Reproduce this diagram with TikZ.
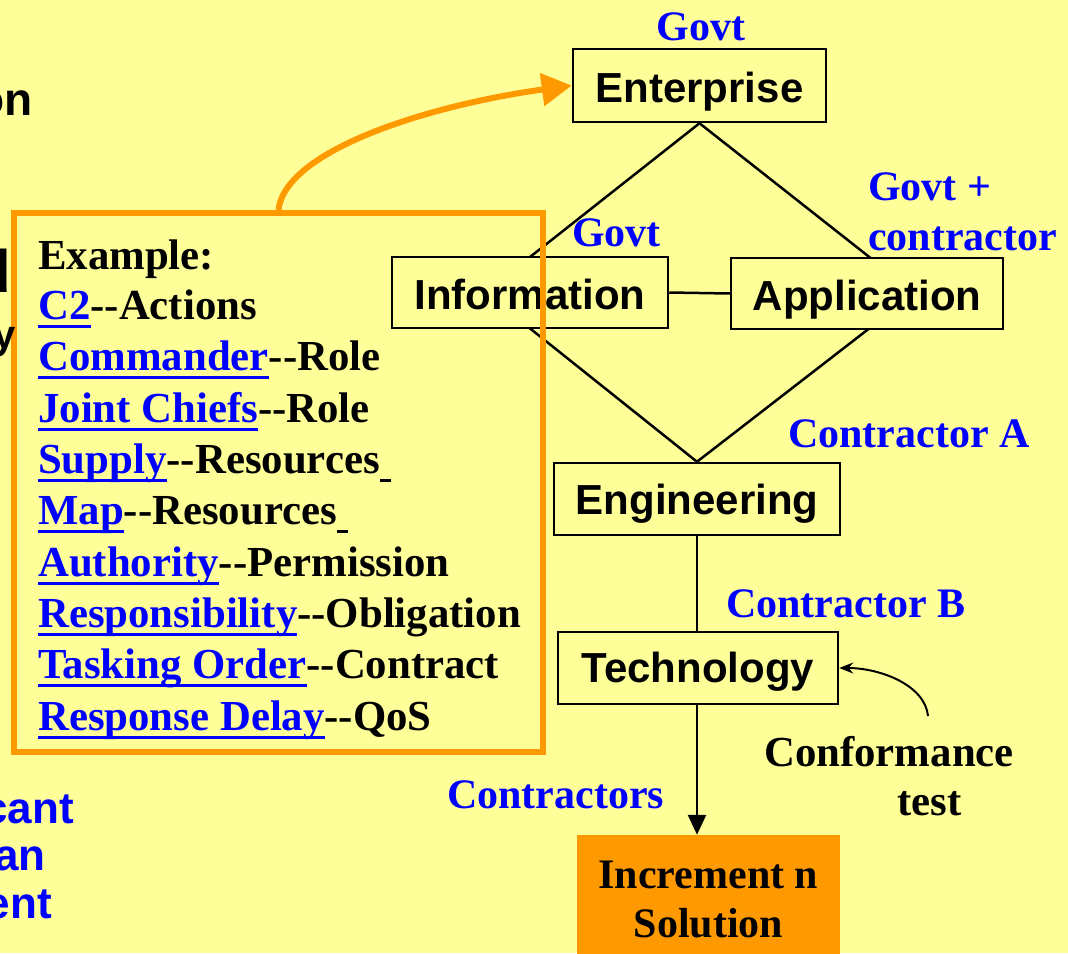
\documentclass[tikz,border=0pt]{standalone}
\usepackage{fontspec}
\usetikzlibrary{arrows.meta,backgrounds}
\newfontfamily\arl{Liberation Sans}
\newfontfamily\tms{Liberation Serif}
\definecolor{bg}{HTML}{FFFF99}
\definecolor{org}{HTML}{FF9900}
\definecolor{lblue}{HTML}{0000FF}
\newcommand\sz[1]{\fontsize{#1}{#1}\selectfont}
\newcommand\lnk[1]{{\color{lblue}\setbox0\hbox{#1}\rlap{\rule[-9pt]{\wd0}{3pt}}\box0}}
\newcommand\ulsp{\rule[-9pt]{11pt}{3pt}}
\begin{document}
\begin{tikzpicture}[x=1pt,y=-1pt,
  box/.style={draw=black,line width=2.5pt,fill=bg,font=\arl\bfseries\sz{42},inner sep=0pt,text height=33pt,text depth=0pt},
  lbl/.style={font=\tms\bfseries\sz{42},text=lblue,inner sep=0pt,anchor=base west},
  ex/.style={font=\tms\bfseries\sz{42.8},text=black,inner sep=0pt,anchor=base west},
  frag/.style={font=\arl\bfseries\sz{46},text=black,inner sep=0pt,anchor=base east},
  fragb/.style={font=\arl\bfseries\sz{44},text=lblue,inner sep=0pt,anchor=base east},
  conn/.style={line width=2.5pt,draw=black}]
\useasboundingbox (0,0) rectangle (1068,953);
\clip (0,0) rectangle (1068,953);

% boxes
\node[box,minimum width=253pt,minimum height=73pt] (ent) at (699.5,85.5) {Enterprise};
\node[box,minimum width=276pt,minimum height=71pt] (info) at (530,292.5) {Information};
\node[box,minimum width=272pt,minimum height=71pt] (app) at (867,293.5) {Application};
\node[box,minimum width=286pt,minimum height=72pt,text height=31pt] (eng) at (697,499) {Engineering};
\node[box,minimum width=280pt,minimum height=72pt,text height=29pt] (tech) at (698,668) {Technology};
\node[fill=org,minimum width=263pt,minimum height=128pt,inner sep=0pt,align=center,
      font=\tms\bfseries\fontsize{42}{49}\selectfont] (inc) at (708.5,899) {Increment n\\Solution};

\coordinate (dl) at (485,292.5);
\coordinate (dr) at (915,293);

\begin{scope}[on background layer]
  \fill[bg] (0,0) rectangle (1068,953);
  \draw[conn,line join=miter] (ent.south) -- (dl) -- (eng.north) -- (dr) -- cycle;
\end{scope}

\draw[conn] (info.east) -- (app.west);
\draw[conn] (eng.south) -- (eng.south |- tech.north);
\draw[conn,-{Triangle[length=20pt,width=18pt]}] (eng.south |- tech.south) -- (eng.south |- inc.north);

% example box
\node[draw=org,line width=6pt,minimum width=529pt,minimum height=539pt,inner sep=0pt] (exbox) at (278.5,482.5) {};
\draw[org,line width=6pt,-{Triangle[length=30pt,width=32pt]}] (exbox.north) .. controls (285,150) and (430,105) .. (ent.west);

\node[ex] (e0) at (38,269) {Example:};
\node[ex] (e1) at (38,319) {\lnk{C2}--Actions};
\node[ex] (e2) at (38,370) {\lnk{Commander}--Role};
\node[ex] (e3) at (38,422) {\lnk{Joint Chiefs}--Role};
\node[ex] (e4) at (38,473) {\lnk{Supply}--Resources\ulsp};
\node[ex] (e5) at (38,524) {\lnk{Map}--Resources\ulsp};
\node[ex] (e6) at (38,576) {\lnk{Authority}--Permission};
\node[ex] (e7) at (38,627) {\lnk{Responsibility}--Obligation};
\node[ex] (e8) at (38,678) {\lnk{Tasking Order}--Contract};
\node[ex] (e9) at (38,730) {\lnk{Response Delay}--QoS};

% labels
\node[lbl,anchor=base] (g1) at (701,40) {Govt};
\node[lbl] (g2) at (868,200) {Govt +};
\node[lbl] (g3) at (868,250) {contractor};
\node[lbl] (g4) at (572,246) {Govt};
\node[lbl] (ca) at (788,447) {Contractor A};
\node[lbl] (cb) at (726,617) {Contractor B};
\node[lbl] (cs) at (447,808) {Contractors};
\node[ex] (cf1) at (764,766) {Conformance};
\node[ex] (cf2) at (897,815) {test};
\coordinate (cf) at (928,716);
\draw[line width=2pt,-{Stealth[length=14pt,width=11pt]}] (cf) .. controls (925,685) and (880,668) .. (tech.east);

% clipped fragments at left edge
\node[frag] (f1) at (33,115) {on};
\node[frag,font=\arl\bfseries\sz{60}] (f2) at (11,292) {d};
\node[font=\arl\bfseries\sz{40},anchor=base east,inner sep=0pt] (f3) at (16,348) {y};
\node[fragb] (f4) at (74,823) {cant};
\node[fragb] (f5) at (46,870) {an};
\node[fragb] (f6) at (52,918) {ent};
\end{tikzpicture}
\end{document}
